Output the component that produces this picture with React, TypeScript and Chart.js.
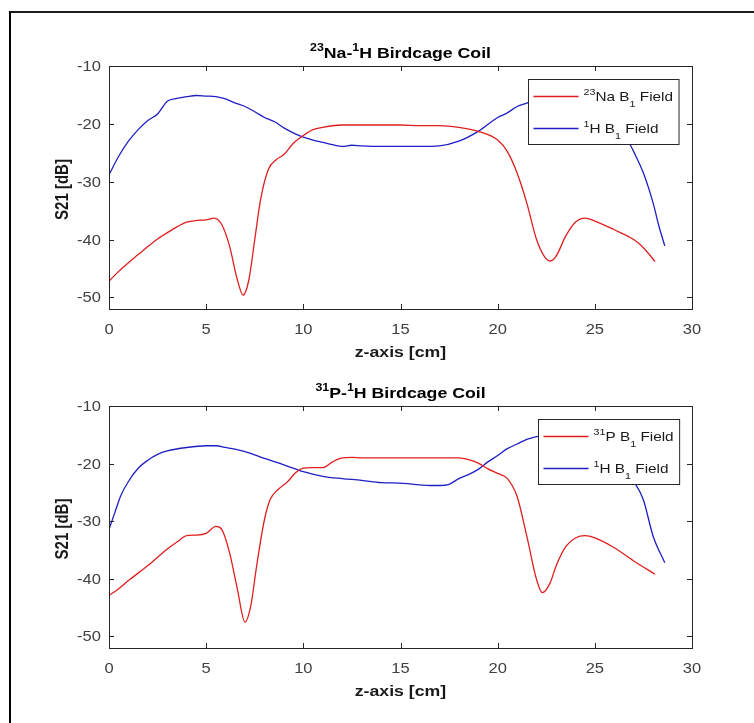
import React, { useEffect, useRef } from "react";
import { Chart, registerables } from "chart.js";

Chart.register(...registerables);

// ---------- data ----------
const xTicks = [0, 5, 10, 15, 20, 25, 30];
const yTicks = [-50, -40, -30, -20, -10];

// Top panel: 23Na-1H
const naX = [0, 0.5, 1, 1.5, 2, 2.5, 3, 3.5, 4, 4.5, 5, 5.4, 5.8, 6.2, 6.6, 6.9, 7.2, 7.5, 7.8, 8.2, 8.6, 9.0, 9.5, 10, 10.5, 11, 12, 13, 14, 15, 16, 17, 18, 19, 20, 20.5, 21, 21.5, 22, 22.4, 22.7, 23, 23.5, 24, 24.5, 25, 26, 27, 27.5, 28.1];
const naY = [-47.2, -45.5, -44, -42.6, -41.2, -39.9, -38.8, -37.8, -37, -36.7, -36.6, -36.3, -37.4, -41.1, -46.9, -49.6, -46.9, -40, -33.1, -27.9, -26.2, -25.3, -23.3, -22.0, -21, -20.6, -20.2, -20.2, -20.2, -20.2, -20.3, -20.3, -20.6, -21.3, -22.8, -24.8, -28.5, -33.7, -40, -42.9, -43.7, -42.9, -39.4, -37, -36.3, -36.8, -38.3, -40, -41.4, -43.8];
const h1X = [0, 0.5, 1, 1.5, 2, 2.5, 3, 3.5, 4, 4.5, 5, 5.5, 6, 6.5, 7, 7.5, 8, 8.5, 9, 9.5, 10, 10.5, 11, 11.5, 12, 12.5, 13, 14, 15, 16, 17, 18, 19, 20, 20.5, 21, 21.5, 22, 23, 24, 25, 26, 26.8, 27, 27.5, 28, 28.3, 28.6];
const h1Y = [-28.8, -25.6, -23, -21, -19.4, -18.3, -16.1, -15.6, -15.3, -15.1, -15.2, -15.3, -15.7, -16.4, -17, -17.9, -18.9, -19.6, -20.7, -21.6, -22.3, -22.8, -23.2, -23.6, -23.9, -23.7, -23.8, -23.9, -23.9, -23.9, -23.8, -23, -21.3, -18.9, -18.1, -17, -16.4, -15.8, -15.2, -15.3, -16.8, -19.8, -23.5, -24.8, -28.5, -33.7, -37.7, -41.1];

// Bottom panel: 31P-1H
const pX = [0, 0.5, 1, 2, 3, 3.5, 4, 4.5, 5, 5.5, 5.8, 6.2, 6.6, 7.0, 7.3, 7.6, 8.0, 8.3, 8.7, 9.2, 9.6, 10, 10.5, 11, 11.5, 12, 12.5, 13, 14, 15, 16, 17, 18, 18.5, 19, 19.5, 20, 20.5, 21, 21.5, 22, 22.3, 22.7, 23, 23.5, 24, 24.5, 25, 26, 27, 28.1];
const pY = [-42.9, -41.7, -40.3, -37.7, -34.8, -33.6, -32.5, -32.4, -32.1, -30.9, -31.4, -35.4, -41.7, -47.5, -44.6, -37.7, -29.7, -26.2, -24.5, -23.1, -21.6, -20.8, -20.7, -20.7, -19.7, -19, -18.9, -19, -19, -19, -19, -19, -19, -19.3, -19.9, -20.9, -21.7, -22.6, -25.7, -32.6, -40.1, -42.4, -40.7, -37.8, -34.4, -32.9, -32.5, -32.9, -34.6, -36.9, -39.2];
const h2X = [0, 0.3, 0.6, 1, 1.5, 2, 2.5, 3, 4, 5, 5.5, 6, 7, 8, 9, 10, 11, 12, 13, 14, 15, 16, 16.5, 17, 17.5, 18, 18.5, 19, 19.5, 20, 20.5, 21, 21.5, 22, 23, 24, 25, 26, 27.1, 27.5, 28, 28.6];
const h2Y = [-31.4, -28.5, -25.6, -23.1, -20.8, -19.4, -18.4, -17.8, -17.2, -16.9, -16.9, -17.2, -17.9, -19.1, -20.2, -21.4, -22.2, -22.6, -22.9, -23.3, -23.4, -23.7, -23.8, -23.8, -23.6, -22.6, -21.9, -21, -19.7, -18.6, -17.4, -16.6, -15.8, -15.3, -15, -15.4, -16.8, -19.5, -23.6, -26.3, -32.6, -37.2];

// ---------- text helpers ----------
type Seg = [string, number]; // 0 normal, 1 superscript, 2 subscript
const SX = 1.18;
const FONT = '"Liberation Sans", Arial, Helvetica, sans-serif';

function segFont(size: number, bold: boolean, kind: number) {
  const s = kind === 0 ? size : size * 0.7;
  return `${bold ? "bold " : ""}${s}px ${FONT}`;
}
function measureSegs(ctx: CanvasRenderingContext2D, segs: Seg[], size: number, bold: boolean) {
  let w = 0;
  for (const [t, k] of segs) {
    ctx.font = segFont(size, bold, k);
    w += ctx.measureText(t).width;
  }
  return w * SX;
}
function drawSegs(
  ctx: CanvasRenderingContext2D,
  segs: Seg[],
  x: number,
  y: number,
  size: number,
  bold: boolean,
  align: "left" | "center" | "right",
  color: string
) {
  const w = measureSegs(ctx, segs, size, bold);
  const x0 = align === "left" ? x : align === "center" ? x - w / 2 : x - w;
  ctx.save();
  ctx.translate(x0, y);
  ctx.scale(SX, 1);
  ctx.fillStyle = color;
  ctx.textAlign = "left";
  ctx.textBaseline = "alphabetic";
  let cx = 0;
  for (const [t, k] of segs) {
    ctx.font = segFont(size, bold, k);
    const dy = k === 1 ? -0.45 * size : k === 2 ? 0.42 * size : 0;
    ctx.fillText(t, cx, dy);
    cx += ctx.measureText(t).width;
  }
  ctx.restore();
}

// ---------- panel ----------
type PanelProps = {
  height: number;
  top: number;
  padTop: number;
  padBottom: number;
  title: Seg[];
  legend1: Seg[];
  legend2: Seg[];
  redX: number[];
  redY: number[];
  blueX: number[];
  blueY: number[];
};

const RED = "#e01e1e";
const BLUE = "#1f1fc4";

function Panel(p: PanelProps) {
  const ref = useRef<HTMLCanvasElement | null>(null);
  useEffect(() => {
    const canvas = ref.current!;
    const decor = {
      id: "decor",
      afterDraw(chart: any) {
        const ctx: CanvasRenderingContext2D = chart.ctx;
        const a = chart.chartArea;
        const xs = chart.scales.x;
        const ys = chart.scales.y;
        ctx.save();
        // axes box
        ctx.strokeStyle = "#262626";
        ctx.lineWidth = 1;
        ctx.strokeRect(Math.round(a.left) + 0.5, Math.round(a.top) + 0.5, Math.round(a.right - a.left), Math.round(a.bottom - a.top));
        // inward ticks
        const TL = 5;
        ctx.beginPath();
        for (const v of xTicks) {
          const px = Math.round(xs.getPixelForValue(v)) + 0.5;
          ctx.moveTo(px, a.bottom);
          ctx.lineTo(px, a.bottom - TL);
          ctx.moveTo(px, a.top);
          ctx.lineTo(px, a.top + TL);
        }
        for (const v of yTicks) {
          const py = Math.round(ys.getPixelForValue(v)) + 0.5;
          ctx.moveTo(a.left, py);
          ctx.lineTo(a.left + TL, py);
          ctx.moveTo(a.right, py);
          ctx.lineTo(a.right - TL, py);
        }
        ctx.stroke();
        // tick labels
        const TS = 14;
        for (const v of xTicks) {
          drawSegs(ctx, [[String(v), 0]], xs.getPixelForValue(v), a.bottom + 25, TS, false, "center", "#404040");
        }
        for (const v of yTicks) {
          drawSegs(ctx, [[String(v), 0]], a.left - 8, ys.getPixelForValue(v) + 5, TS, false, "right", "#404040");
        }
        // axis labels
        drawSegs(ctx, [["z-axis [cm]", 0]], (a.left + a.right) / 2, a.bottom + 47.5, 15, true, "center", "#1a1a1a");
        ctx.save();
        ctx.translate(63.5, (a.top + a.bottom) / 2 + 2);
        ctx.scale(SX, 1);
        ctx.rotate(-Math.PI / 2);
        ctx.font = `bold 15px ${FONT}`;
        ctx.fillStyle = "#1a1a1a";
        ctx.textAlign = "center";
        ctx.textBaseline = "middle";
        ctx.fillText("S21 [dB]", 0, 0);
        ctx.restore();
        // title
        drawSegs(ctx, p.title, (a.left + a.right) / 2, a.top - 8, 15, true, "center", "#000");
        // legend
        const LS = 13;
        const tw = Math.max(measureSegs(ctx, p.legend1, LS, false), measureSegs(ctx, p.legend2, LS, false));
        const bw = 5 + 45 + 5 + tw + 6;
        const bh = 65;
        const bx = Math.round(a.right - 13 - bw) + 0.5;
        const by = Math.round(a.top + 13) + 0.5;
        ctx.fillStyle = "#fff";
        ctx.fillRect(bx, by, bw, bh);
        ctx.strokeStyle = "#262626";
        ctx.lineWidth = 1;
        ctx.strokeRect(bx, by, bw, bh);
        const rows: [Seg[], string][] = [
          [p.legend1, RED],
          [p.legend2, BLUE],
        ];
        rows.forEach(([segs, col], i) => {
          const ry = by + 17 + i * 32;
          ctx.strokeStyle = col;
          ctx.lineWidth = 1.3;
          ctx.beginPath();
          ctx.moveTo(bx + 5, ry);
          ctx.lineTo(bx + 50, ry);
          ctx.stroke();
          drawSegs(ctx, segs, bx + 55, ry + 4.7, LS, false, "left", "#1a1a1a");
        });
        ctx.restore();
      },
    };

    const chart = new Chart(canvas, {
      type: "line",
      data: {
        datasets: [
          {
            data: p.redX.map((x, i) => ({ x, y: p.redY[i] })),
            borderColor: RED,
            borderWidth: 1.3,
            pointRadius: 0,
            cubicInterpolationMode: "monotone",
            fill: false,
          },
          {
            data: p.blueX.map((x, i) => ({ x, y: p.blueY[i] })),
            borderColor: BLUE,
            borderWidth: 1.3,
            pointRadius: 0,
            cubicInterpolationMode: "monotone",
            fill: false,
          },
        ],
      },
      options: {
        responsive: false,
        animation: false,
        devicePixelRatio: 1,
        layout: { autoPadding: false, padding: { left: 0, right: 62, top: p.padTop, bottom: p.padBottom } },
        plugins: { legend: { display: false }, title: { display: false }, tooltip: { enabled: false } },
        events: [],
        scales: {
          x: {
            type: "linear",
            min: 0,
            max: 30,
            ticks: { display: false, stepSize: 5 },
            grid: { display: false },
            border: { display: false },
            afterFit: (s: any) => {
              s.height = 30;
            },
          },
          y: {
            type: "linear",
            min: -52,
            max: -10,
            ticks: { display: false },
            grid: { display: false },
            border: { display: false },
            afterBuildTicks: (s: any) => {
              s.ticks = yTicks.map((v) => ({ value: v }));
            },
            afterFit: (s: any) => {
              s.width = 109;
            },
          },
        },
      } as any,
      plugins: [decor],
    });
    return () => chart.destroy();
  }, []);
  return (
    <canvas
      ref={ref}
      width={754}
      height={p.height}
      style={{ position: "absolute", left: 0, top: p.top, width: 754, height: p.height, display: "block" }}
    />
  );
}

export default function App() {
  return (
    <div style={{ position: "absolute", left: 0, top: 0, width: 754, height: 723, background: "#fff", overflow: "hidden" }}>
      <div
        style={{
          position: "absolute",
          left: 9,
          top: 11,
          width: 745,
          height: 712,
          boxSizing: "border-box",
          borderTop: "2px solid #1c1c1c",
          borderLeft: "2px solid #000",
        }}
      />
      <Panel
        height={361}
        top={0}
        padTop={66}
        padBottom={22}
        title={[["23", 1], ["Na-", 0], ["1", 1], ["H Birdcage Coil", 0]]}
        legend1={[["23", 1], ["Na B", 0], ["1", 2], [" Field", 0]]}
        legend2={[["1", 1], ["H B", 0], ["1", 2], [" Field", 0]]}
        redX={naX}
        redY={naY}
        blueX={h1X}
        blueY={h1Y}
      />
      <Panel
        height={362}
        top={361}
        padTop={45}
        padBottom={45}
        title={[["31", 1], ["P-", 0], ["1", 1], ["H Birdcage Coil", 0]]}
        legend1={[["31", 1], ["P B", 0], ["1", 2], [" Field", 0]]}
        legend2={[["1", 1], ["H B", 0], ["1", 2], [" Field", 0]]}
        redX={pX}
        redY={pY}
        blueX={h2X}
        blueY={h2Y}
      />
    </div>
  );
}
